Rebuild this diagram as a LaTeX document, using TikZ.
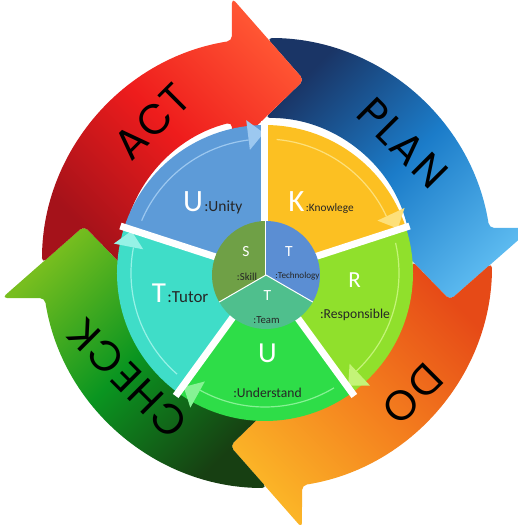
\documentclass[tikz,border=0pt]{standalone}
\usepackage{fontspec}
\setmainfont{Carlito}
\newfontfamily\ringfont[LetterSpace=5]{Poppins}
\usetikzlibrary{positioning}

\definecolor{planDark}{HTML}{1A3566}
\definecolor{planMid}{HTML}{1B7CC9}
\definecolor{planLight}{HTML}{5BB9EF}
\definecolor{doDark}{HTML}{E64A17}
\definecolor{doMid}{HTML}{F47F1E}
\definecolor{doLight}{HTML}{FBB427}
\definecolor{checkDark}{HTML}{173F12}
\definecolor{checkMid}{HTML}{0A9520}
\definecolor{checkLight}{HTML}{77BE1F}
\definecolor{actDark}{HTML}{A5121A}
\definecolor{actMid}{HTML}{EE1C1C}
\definecolor{actLight}{HTML}{FF5533}
\definecolor{unityBlue}{HTML}{5D9BD8}
\definecolor{unityTint}{HTML}{9CC8F0}
\definecolor{knowYellow}{HTML}{FCC022}
\definecolor{knowTint}{HTML}{FDE07A}
\definecolor{respGreen}{HTML}{90E02C}
\definecolor{respTint}{HTML}{C4F478}
\definecolor{underGreen}{HTML}{2EDD48}
\definecolor{underTint}{HTML}{86F294}
\definecolor{tutorTeal}{HTML}{3FDDC8}
\definecolor{tutorTint}{HTML}{96F2E6}
\definecolor{skillGreen}{HTML}{6FA046}
\definecolor{techBlue}{HTML}{5B8ED3}
\definecolor{teamGreen}{HTML}{4FBF8D}

\tikzset{
	cycle word/.style={font=\ringfont\fontsize{42}{42}\selectfont, text=black, inner sep=0pt},
	big letter/.style={font=\fontsize{31}{31}\selectfont, text=white, inner sep=0pt, anchor=base},
	key word/.style={font=\fontsize{15.5}{15.5}\selectfont, text=black!85, inner sep=0pt, anchor=base},
	gap line/.style={white, line width=7pt},
	node distance=1pt}

\begin{document}
\begin{tikzpicture}[x=1pt, y=1pt]
	\useasboundingbox (-267,-262) rectangle (251,263);
	\clip (-267,-262) rectangle (251,263);

	\foreach \rot/\dark/\mid/\light in {0/planDark/planMid/planLight, -90/doDark/doMid/doLight,
		-180/checkDark/checkMid/checkLight, 90/actDark/actMid/actLight}
	{
		\pgfmathsetmacro\sang{45+\rot}
		\begin{scope}[rotate=\rot]
			\shade[rounded corners=5pt, top color=\dark, bottom color=\light, middle color=\mid, shading angle=\sang]
			(90:225) arc[start angle=90, end angle=8.95, radius=225]
			-- (265,35) -- (183,-37) -- (113,35)
			-- (13.97:145) arc[start angle=13.97, end angle=90.8, radius=145]
			-- (37,183) -- cycle;
		\end{scope}
	}

	\node[cycle word, rotate=45] (act) at (129:182) {ACT};
	\node[cycle word, rotate=-45] (plan) at (41.4:181) {PLAN};
	\node[cycle word, rotate=-135] (do) at (-42:196) {DO};
	\node[cycle word, rotate=135] (check) at (-140.4:181) {CHECK};

	\begin{scope}[shift={(-2,-10)}]
		\foreach \a/\col/\tint in {162/unityBlue/unityTint, 90/knowYellow/knowTint, 18/respGreen/respTint,
			-54/underGreen/underTint, -126/tutorTeal/tutorTint}
		{
			\fill[\col] (0,0) -- (\a:148) arc[start angle=\a, end angle=\a-72, radius=148] -- cycle;
			\draw[\tint, line width=1.2pt] (\a-5:134) arc[start angle=\a-5, end angle=\a-65, radius=134];
			\fill[\tint] (\a-65:124) -- (\a-65:154) -- (\a-71.5:140) -- cycle;
		}
		\foreach \a in {90,18,-54,-126,162}
			\draw[gap line] (0,0) -- (\a:152);
	\end{scope}

	\begin{scope}[shift={(-1,-12)}]
		\fill[skillGreen] (0,0) -- (90:54) arc[start angle=90, end angle=210, radius=54] -- cycle;
		\fill[techBlue] (0,0) -- (-30:54) arc[start angle=-30, end angle=90, radius=54] -- cycle;
		\fill[teamGreen] (0,0) -- (210:54) arc[start angle=210, end angle=330, radius=54] -- cycle;
		\foreach \a in {90,210,330}
			\draw[white, line width=1pt] (0,0) -- (\a:54);
	\end{scope}

	\node[big letter] (unityU) at (-74,51) {U};
	\node[key word, base right=1pt of unityU] (unity) {:Unity};
	\node[big letter] (knowK) at (29.5,51) {K};
	\node[key word, base right=1pt of knowK, font=\fontsize{11.3}{11.3}\selectfont] (know) {:Knowlege};
	\node[big letter, font=\fontsize{23}{23}\selectfont] (respR) at (87.5,-24) {R};
	\node[key word, font=\fontsize{13.6}{13.6}\selectfont] (resp) at (88,-56) {:Responsible};
	\node[big letter, font=\fontsize{29}{29}\selectfont] (underU) at (0.5,-99) {U};
	\node[key word, font=\fontsize{13.6}{13.6}\selectfont] (under) at (0.5,-134) {:Understand};
	\node[big letter, font=\fontsize{29}{29}\selectfont] (tutorT) at (-108,-39) {T};
	\node[key word, base right=1pt of tutorT, font=\fontsize{16.9}{16.9}\selectfont] (tutor) {:Tutor};

	\node[big letter, font=\fontsize{15.5}{15.5}\selectfont] (skillS) at (-21,6) {S};
	\node[key word, font=\fontsize{10.7}{10.7}\selectfont] (skill) at (-20,-17) {:Skill};
	\node[big letter, font=\fontsize{15.5}{15.5}\selectfont] (techT) at (22,6) {T};
	\node[key word, font=\fontsize{9.1}{9.1}\selectfont] (tech) at (30.5,-16) {:Technology};
	\node[big letter, font=\fontsize{15.5}{15.5}\selectfont] (teamT) at (0.5,-37) {T};
	\node[key word, font=\fontsize{10.7}{10.7}\selectfont] (team) at (-0.5,-60) {:Team};
\end{tikzpicture}
\end{document}
